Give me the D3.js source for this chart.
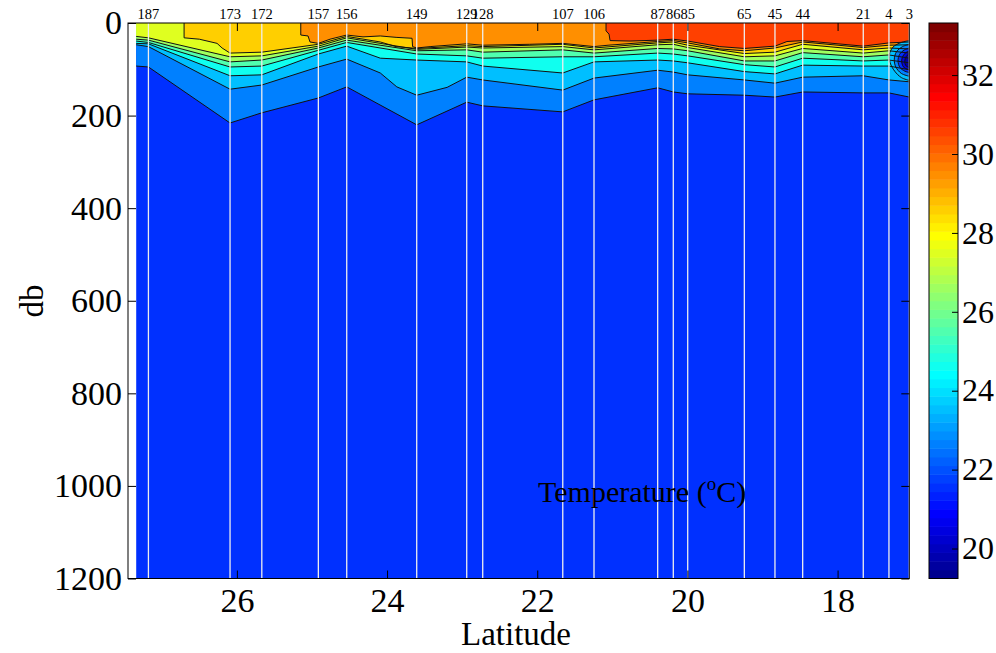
<!DOCTYPE html>
<html>
<head>
<meta charset="utf-8">
<script src="https://cdn.jsdelivr.net/npm/d3@7"></script>
<style>
  body { margin: 0; background: #fff; }
  svg { display: block; }
  text { font-family: "Liberation Serif", "Times New Roman", serif; fill: #000; }
</style>
</head>
<body>
<svg id="chart" width="996" height="653"></svg>
<script>
// ---- Section data: temperature (°C) vs latitude and pressure (db) ----
const stationIds  = ["187","173","172","157","156","149","129","128","107","106","87","86","85","65","45","44","21","4","3"];
const stationLat  = [27.178, 26.091, 25.668, 24.915, 24.537, 23.605, 22.939, 22.726, 21.660, 21.244, 20.396, 20.188, 19.996, 19.242, 18.834, 18.465, 17.658, 17.316, 17.045];

const xTicks  = [26, 24, 22, 20, 18];
const yTicks  = [0, 200, 400, 600, 800, 1000, 1200];
const cbTicks = [20, 22, 24, 26, 28, 30, 32];
const colorLimits = [19.24, 33.32];
const latLimits   = [27.45, 17.045];
const gridLat     = [27.342, 17.045];   // extent of the gridded field
const depthMax    = 1200;

// isotherms: [latitude, depth in db] along each contour line
const iso22 = [[27.342,93],[27.178,95],[26.091,216],[25.668,194],[24.915,162],[24.537,138],[23.605,220],[22.939,171],[22.726,179],[21.660,192],[21.244,166],[20.396,140],[20.188,149],[19.996,153],[19.242,156],[18.834,160],[18.465,149],[17.658,151],[17.316,151],[17.045,160]];
const iso23 = [[27.342,47],[27.178,51],[26.091,143],[25.668,134],[24.915,95],[24.537,78],[24.09,108],[23.87,138],[23.605,156],[23.20,139],[22.939,117],[22.726,123],[21.660,145],[21.244,119],[20.396,102],[20.188,106],[19.996,112],[19.242,123],[18.834,130],[18.465,117],[17.658,114],[17.316,123],[17.045,127]];
const iso24 = [[27.342,44],[27.178,45],[26.091,114],[25.668,112],[24.915,67],[24.537,50],[24.09,76],[23.605,80],[22.939,84],[22.726,93],[21.660,108],[21.244,84],[20.396,80],[20.188,82],[19.996,86],[19.242,105],[18.834,110],[18.465,91],[17.658,93],[17.316,93],[17.045,101]];
const iso25 = [[27.342,39],[27.178,42],[26.091,95],[25.668,93],[24.915,59],[24.537,42],[23.605,67],[22.939,71],[22.726,76],[21.660,73],[21.244,73],[20.396,65],[20.188,67],[19.996,71],[19.242,90],[18.834,95],[18.465,76],[17.658,82],[17.316,80],[17.045,86]];
const iso26 = [[27.342,35],[27.178,37],[26.091,84],[25.668,80],[24.915,54],[24.537,37],[23.605,60],[22.939,58],[22.726,63],[21.660,58],[21.244,65],[20.396,55],[20.188,56],[19.996,60],[19.242,82],[18.834,82],[18.465,64],[17.658,73],[17.316,69],[17.045,76]];
const iso27 = [[27.342,29],[27.178,32],[26.091,73],[25.668,71],[24.915,50],[24.537,32],[23.605,57],[22.939,52],[22.726,54],[21.660,51],[21.244,58],[20.396,47],[20.188,46],[19.996,53],[19.242,73],[18.834,71],[18.465,55],[17.658,65],[17.316,60],[17.045,65]];
const iso28 = [[26.703,0],[26.703,32],[26.50,35],[26.264,44],[26.197,54],[26.091,65],[25.668,63],[24.915,46],[24.537,29],[24.09,41],[23.88,51],[23.605,55],[22.939,49],[22.726,51],[21.660,46],[21.244,54],[20.396,43],[20.188,41],[19.996,48],[19.242,66],[18.834,63],[18.465,46],[17.658,58],[17.316,54],[17.045,56]];
const iso29 = [[25.149,0],[25.149,26],[25.052,28],[25.026,41],[24.915,44],[24.759,35],[24.537,26],[24.32,30],[24.09,28],[23.88,31],[23.667,33],[23.66,51],[23.605,54],[23.427,51],[22.939,45],[22.726,48],[22.10,46],[21.660,44],[21.244,51],[21.057,48],[20.396,40],[20.188,38],[19.996,43],[19.57,56],[19.242,60],[18.834,54],[18.465,41],[17.658,53],[17.316,48],[17.045,47]];
const iso30 = [[21.084,0],[21.084,17],[21.044,24],[21.03,38],[20.764,39],[20.396,37],[20.188,35],[19.996,39],[19.57,51],[19.242,55],[18.834,50],[18.674,40],[18.465,38],[17.658,50],[17.316,43],[17.045,41]];

// cold core at the southern end: closed rings, water colder than the ring's level inside
const ring24 = [[17.045,38],[17.150,42],[17.262,52],[17.310,68],[17.300,86],[17.240,104],[17.150,118],[17.045,124]];
const ring23 = [[17.045,46],[17.135,51],[17.215,62],[17.245,78],[17.225,95],[17.150,109],[17.045,115]];
const ring22 = [[17.045,54],[17.110,58],[17.175,68],[17.195,82],[17.170,96],[17.105,104],[17.045,107]];
const ring21 = [[17.045,60],[17.098,65],[17.138,74],[17.145,86],[17.118,96],[17.045,101]];
const ring20 = [[17.045,66],[17.085,72],[17.105,82],[17.092,92],[17.045,96]];

const warmLayers = [[22, iso22],[23, iso23],[24, iso24],[25, iso25],[26, iso26],[27, iso27],[28, iso28],[29, iso29],[30, iso30]];
const coldRings  = [[24, ring24],[23, ring23],[22, ring22],[21, ring21],[20, ring20]];
const baseLevel  = 21;

// ---- MATLAB-style jet(64) colormap ----
function jetRow(k) {               // k = 1..64
  const u = j => (j >= 1 && j <= 16) ? j / 16 : (j >= 17 && j <= 31) ? 1 : (j >= 32 && j <= 47) ? (48 - j) / 16 : 0;
  return [u(k - 24), u(k - 8), u(k + 8)];
}
const rowHex = k => { const c = jetRow(k); return d3.rgb(c[0] * 255, c[1] * 255, c[2] * 255).formatHex(); };
function jetColor(v) {
  const m = 64;
  let k = Math.floor((v - colorLimits[0]) / (colorLimits[1] - colorLimits[0]) * m) + 1;
  return rowHex(Math.max(1, Math.min(m, k)));
}
// fill of the band that starts at a contour level
const bandColor = level => jetColor(level + 0.55);

// ---- layout ----
const svg = d3.select("#chart");
const box = { left: 128, right: 909.3, top: 23, bottom: 578.5 };
const x = d3.scaleLinear().domain(latLimits).range([box.left, box.right]);
const y = d3.scaleLinear().domain([0, depthMax]).range([box.top, box.bottom]);

svg.append("defs").append("clipPath").attr("id", "field")
  .append("rect")
  .attr("x", x(gridLat[0])).attr("y", y(0))
  .attr("width", x(gridLat[1]) - x(gridLat[0])).attr("height", y(depthMax) - y(0));

const field = svg.append("g").attr("clip-path", "url(#field)");
const line = d3.line().x(d => x(d[0])).y(d => y(d[1]));
const ringLine = d3.line().x(d => x(d[0])).y(d => y(d[1])).curve(d3.curveCatmullRom);

// deepest band covers the whole field
field.append("rect")
  .attr("x", x(gridLat[0])).attr("y", y(0))
  .attr("width", x(gridLat[1]) - x(gridLat[0])).attr("height", y(depthMax) - y(0))
  .attr("fill", bandColor(baseLevel));

// each warmer band: water above its isotherm, painted from cold to warm
warmLayers.forEach(([level, pts]) => {
  const poly = pts.concat([[pts[pts.length - 1][0], 0], [pts[0][0], 0]]);
  field.append("path").attr("d", line(poly) + "Z").attr("fill", bandColor(level));
});
coldRings.forEach(([level, pts]) => {
  field.append("path").attr("d", ringLine(pts) + "Z").attr("fill", bandColor(level - 1));
});

// contour lines
const lines = field.append("g").attr("fill", "none").attr("stroke", "#111").attr("stroke-width", 1);
warmLayers.forEach(([, pts]) => lines.append("path").attr("d", line(pts)));
coldRings.forEach(([, pts]) => lines.append("path").attr("d", ringLine(pts)));

// station tracks
svg.append("g").selectAll("line").data(stationLat).join("line")
  .attr("x1", d => x(d)).attr("x2", d => x(d))
  .attr("y1", box.top).attr("y2", box.bottom)
  .attr("stroke", "#eeeeee").attr("stroke-width", 1.3);

// station numbers
svg.append("g").selectAll("text").data(stationIds).join("text")
  .attr("x", (d, i) => x(stationLat[i])).attr("y", 18.5)
  .attr("text-anchor", "middle").attr("font-size", 14.5)
  .text(d => d);

// ---- axes (ticks point inward on all four sides) ----
const tickLen = 8;
const styleAxis = size => g => {
  g.select(".domain").remove();
  g.selectAll(".tick line").attr("stroke", "#000");
  g.selectAll(".tick text").attr("font-family", "Liberation Serif").attr("font-size", size).attr("fill", "#000");
};
svg.append("g").attr("transform", `translate(0,${box.bottom})`)
  .call(d3.axisBottom(x).tickValues(xTicks).tickSizeInner(-tickLen).tickSizeOuter(0).tickPadding(9).tickFormat(d3.format("d")))
  .call(styleAxis(34));
svg.append("g").attr("transform", `translate(0,${box.top})`)
  .call(d3.axisTop(x).tickValues(xTicks).tickSizeInner(-tickLen).tickSizeOuter(0).tickFormat(""))
  .call(styleAxis(34));
svg.append("g").attr("transform", `translate(${box.left},0)`)
  .call(d3.axisLeft(y).tickValues(yTicks).tickSizeInner(-tickLen).tickSizeOuter(0).tickPadding(6).tickFormat(d3.format("d")))
  .call(styleAxis(34));
svg.append("g").attr("transform", `translate(${box.right},0)`)
  .call(d3.axisRight(y).tickValues(yTicks).tickSizeInner(-tickLen).tickSizeOuter(0).tickFormat(""))
  .call(styleAxis(34));

svg.append("rect")
  .attr("x", box.left).attr("y", box.top)
  .attr("width", box.right - box.left).attr("height", box.bottom - box.top)
  .attr("fill", "none").attr("stroke", "#000").attr("stroke-width", 1);

// axis titles
svg.append("text").attr("x", 516).attr("y", 645)
  .attr("text-anchor", "middle").attr("font-size", 33).text("Latitude");
svg.append("text").attr("transform", "translate(43,301) rotate(-90)")
  .attr("text-anchor", "middle").attr("font-size", 33).text("db");

// in-plot title
const title = svg.append("text").attr("x", 538).attr("y", 502).attr("font-size", 30);
title.append("tspan").text("Temperature (");
title.append("tspan").attr("font-size", 19).attr("dy", -12).text("o");
title.append("tspan").attr("dy", 12).text("C)");

// ---- colorbar ----
const cb = { x: 929, w: 29 };
const cy = d3.scaleLinear().domain(colorLimits).range([box.bottom, box.top]);
const steps = d3.range(64);
const stepH = (colorLimits[1] - colorLimits[0]) / 64;
svg.append("g").selectAll("rect").data(steps).join("rect")
  .attr("x", cb.x).attr("width", cb.w)
  .attr("y", k => cy(colorLimits[0] + (k + 1) * stepH))
  .attr("height", k => cy(colorLimits[0] + k * stepH) - cy(colorLimits[0] + (k + 1) * stepH) + 0.5)
  .attr("fill", k => rowHex(k + 1));
svg.append("g").attr("transform", `translate(${cb.x + cb.w},0)`)
  .call(d3.axisRight(cy).tickValues(cbTicks).tickSizeInner(-6).tickSizeOuter(0).tickPadding(4).tickFormat(d3.format("d")))
  .call(styleAxis(32));
svg.append("rect").attr("x", cb.x).attr("y", box.top).attr("width", cb.w).attr("height", box.bottom - box.top)
  .attr("fill", "none").attr("stroke", "#000").attr("stroke-width", 1);
</script>
</body>
</html>
